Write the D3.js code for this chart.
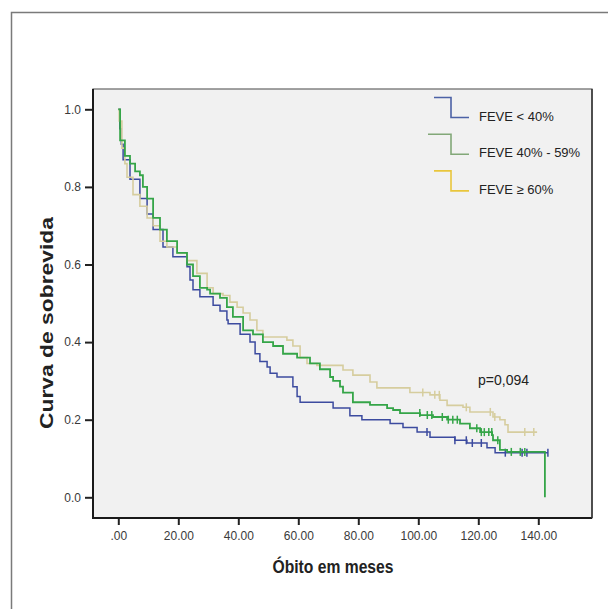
<!DOCTYPE html>
<html>
<head>
<meta charset="utf-8">
<script src="https://cdn.jsdelivr.net/npm/d3@7"></script>
<style>
  body { margin: 0; background: #fff; }
  svg { display: block; }
</style>
</head>
<body>
<div id="chart"></div>
<script>
// Kaplan-Meier curves, values (time in months, survival)
const blueTimes = [0, 0.5, 1.0, 1.6, 3.9, 7.2, 9.6, 11.6, 14.9, 18.2, 22.9, 23.9, 24.9, 27.2, 31.6, 33.9, 36.2, 36.6, 40.6, 43.9,
    45.6, 47.2, 49.6, 50.6, 52.9, 58.2, 59.6, 60.6, 71.6, 77.2, 81.2, 90.6, 94.9, 99.6, 103.9, 112.2, 116.2, 122.9, 125.6, 143.2];
const blueSurv = [1, .95, .91, .87, .82, .77, .73, .69, .645, .62, .594, .56, .535, .517, .495, .48, .457, .447, .42, .40,
    .37, .35, .336, .32, .31, .285, .26, .245, .23, .21, .20, .19, .18, .168, .155, .147, .14, .128, .115, .115];
const blueCensor = [102.9, 112.2, 116, 118, 121, 129, 134.6, 136.2, 143.2];

const greenTimes = [0, 0.6, 2.2, 3.9, 5.6, 7.2, 8.2, 9.6, 11.6, 13.9, 16.2, 19.6, 22.9, 24.9, 27.2, 29.6, 30.6, 33.9, 36.2, 38.2,
    41.6, 44.9, 48.2, 51.6, 54.9, 59.6, 63.9, 67.2, 70.6, 71.6, 73.9, 74.9, 78.2, 83.9, 89.6, 91.6, 93.9, 100.6, 104.9, 109.6,
    113.9, 117.2, 120.6, 124.6, 124.9, 127.2, 129.6, 142.2];
const greenSurv = [1, .92, .88, .86, .84, .83, .80, .77, .72, .69, .66, .63, .60, .57, .54, .535, .525, .514, .49, .465,
    .43, .42, .40, .39, .37, .36, .345, .33, .31, .30, .285, .27, .245, .238, .23, .225, .217, .212, .207, .20,
    .19, .178, .168, .16, .147, .122, .117, 0];
const greenCensor = [100.5, 103, 104.5, 108, 110, 111.5, 113, 119.5, 121, 122, 123.5, 124.5, 126.5, 131, 134, 135.5];

const tanTimes = [0, 0.3, 1.2, 2.2, 2.9, 4.9, 7.2, 9.6, 11.6, 13.9, 16.2, 19.6, 22.9, 26.2, 29.6, 31.6, 34.9, 37.2, 39.6, 41.6,
    43.9, 46.2, 48.2, 56.2, 58.2, 60.6, 62.9, 66.2, 74.9, 78.2, 83.9, 86.2, 97.2, 103.9, 107.2, 109.6, 114.9, 117.2, 124.9, 127.2,
    128.9, 129.9, 139.6];
const tanSurv = [1, .97, .90, .86, .825, .78, .75, .72, .70, .66, .645, .63, .61, .577, .54, .525, .52, .503, .49, .475,
    .457, .43, .413, .405, .39, .36, .345, .34, .328, .315, .297, .282, .27, .264, .25, .237, .232, .22, .207, .20,
    .187, .168, .168];
const tanCensor = [101.5, 105.5, 107, 116, 124, 125.5, 135.5, 138.5];

const legendLabels = ["FEVE < 40%", "FEVE 40% - 59%", "FEVE \u2265 60%"];
const xTicks = [0, 20, 40, 60, 80, 100, 120, 140];
const yTicks = [0, 0.2, 0.4, 0.6, 0.8, 1.0];
const pText = "p=0,094";

const W = 608, H = 609;
const frame = { left: 93, right: 592, top: 89, bottom: 518 };

const svg = d3.select("#chart")
    .append("svg")
    .attr("width", W)
    .attr("height", H);

// outer figure frame (runs off the right and bottom edge)
svg.append("rect")
    .attr("x", 11.5).attr("y", 12.5)
    .attr("width", 620).attr("height", 620)
    .attr("fill", "#fff")
    .attr("stroke", "#7a7a7a")
    .attr("stroke-width", 1.5);

// plot background
svg.append("rect")
    .attr("x", frame.left).attr("y", frame.top)
    .attr("width", frame.right - frame.left)
    .attr("height", frame.bottom - frame.top)
    .attr("fill", "#f1f1f1");

const x = d3.scaleLinear().domain([0, 140]).range([118.3, 538.3]);
const y = d3.scaleLinear().domain([0, 1]).range([497.3, 109.3]);

// axes
const xAxis = svg.append("g")
    .attr("transform", `translate(0,${frame.bottom})`)
    .call(d3.axisBottom(x).tickValues(xTicks).tickSize(7).tickPadding(6)
        .tickFormat(d => d === 0 ? ".00" : d.toFixed(2)));

const yAxis = svg.append("g")
    .attr("transform", `translate(${frame.left},0)`)
    .call(d3.axisLeft(y).tickValues(yTicks).tickSize(8).tickPadding(4)
        .tickFormat(d3.format(".1f")));

[xAxis, yAxis].forEach(g => {
    g.select(".domain").remove();
    g.selectAll(".tick line").attr("stroke", "#222").attr("stroke-width", 2);
    g.selectAll(".tick text")
        .attr("fill", "#3a3a3a")
        .style("font-family", "'Liberation Sans', Arial, sans-serif")
        .style("font-size", "12px");
});

// plot frame
svg.append("rect")
    .attr("x", frame.left).attr("y", frame.top)
    .attr("width", frame.right - frame.left)
    .attr("height", frame.bottom - frame.top)
    .attr("fill", "none")
    .attr("stroke", "#666")
    .attr("stroke-width", 1.2);

svg.append("line")
    .attr("x1", frame.left).attr("x2", frame.left)
    .attr("y1", frame.top).attr("y2", frame.bottom + 1)
    .attr("stroke", "#1a1a1a").attr("stroke-width", 2);
svg.append("line")
    .attr("x1", frame.left - 1).attr("x2", frame.right)
    .attr("y1", frame.bottom).attr("y2", frame.bottom)
    .attr("stroke", "#1a1a1a").attr("stroke-width", 2);
svg.append("line")
    .attr("x1", frame.right).attr("x2", frame.right)
    .attr("y1", frame.top).attr("y2", frame.bottom)
    .attr("stroke", "#333").attr("stroke-width", 1.5);

// curves
const series = [
    { times: blueTimes, surv: blueSurv, censor: blueCensor, color: "#3c4b9f", width: 1.5 },
    { times: tanTimes, surv: tanSurv, censor: tanCensor, color: "#d6cd9e", width: 1.6 },
    { times: greenTimes, surv: greenSurv, censor: greenCensor, color: "#35a548", width: 1.8 }
];

const line = d3.line()
    .x(d => x(d[0]))
    .y(d => y(d[1]))
    .curve(d3.curveStepAfter);

function survAt(s, t) {
    let v = s.surv[0];
    for (let i = 0; i < s.times.length; i++) {
        if (s.times[i] <= t) v = s.surv[i];
    }
    return v;
}

series.forEach(s => {
    const pts = s.times.map((t, i) => [t, s.surv[i]]);
    svg.append("path")
        .datum(pts)
        .attr("fill", "none")
        .attr("stroke", s.color)
        .attr("stroke-width", s.width)
        .attr("d", line);

    svg.append("g")
        .selectAll("line")
        .data(s.censor)
        .enter()
        .append("line")
        .attr("x1", d => x(d)).attr("x2", d => x(d))
        .attr("y1", d => y(survAt(s, d)) - 4)
        .attr("y2", d => y(survAt(s, d)) + 4)
        .attr("stroke", s.color)
        .attr("stroke-width", 1.5);
});

// legend
const legendColors = ["#4c62a6", "#82a878", "#e9c63c"];
const legendX = [434, 428, 434];
legendLabels.forEach((lab, i) => {
    const base = 120.5 + i * 36.7;
    svg.append("path")
        .attr("d", `M${legendX[i]},${base - 23}H451V${base - 3}H469`)
        .attr("fill", "none")
        .attr("stroke", legendColors[i])
        .attr("stroke-width", 1.6);
    svg.append("text")
        .attr("x", 479)
        .attr("y", base)
        .attr("fill", "#222")
        .style("font-family", "'Liberation Sans', Arial, sans-serif")
        .style("font-size", "13px")
        .text(lab);
});

svg.append("text")
    .attr("x", 478)
    .attr("y", 385)
    .attr("fill", "#222")
    .style("font-family", "'Liberation Sans', Arial, sans-serif")
    .style("font-size", "14px")
    .text(pText);

// axis titles
svg.append("text")
    .attr("x", 333)
    .attr("y", 573)
    .attr("text-anchor", "middle")
    .attr("textLength", 121)
    .attr("lengthAdjust", "spacingAndGlyphs")
    .attr("fill", "#222")
    .style("font-family", "'Liberation Sans Narrow', 'Arial Narrow', 'Liberation Sans', sans-serif")
    .style("font-weight", "bold")
    .style("font-size", "18px")
    .text("Óbito em meses");

svg.append("text")
    .attr("transform", "translate(53,323) rotate(-90)")
    .attr("text-anchor", "middle")
    .attr("textLength", 212)
    .attr("lengthAdjust", "spacingAndGlyphs")
    .attr("fill", "#222")
    .style("font-family", "'Liberation Sans Narrow', 'Arial Narrow', 'Liberation Sans', sans-serif")
    .style("font-weight", "bold")
    .style("font-size", "18px")
    .text("Curva de sobrevida");
</script>
</body>
</html>
